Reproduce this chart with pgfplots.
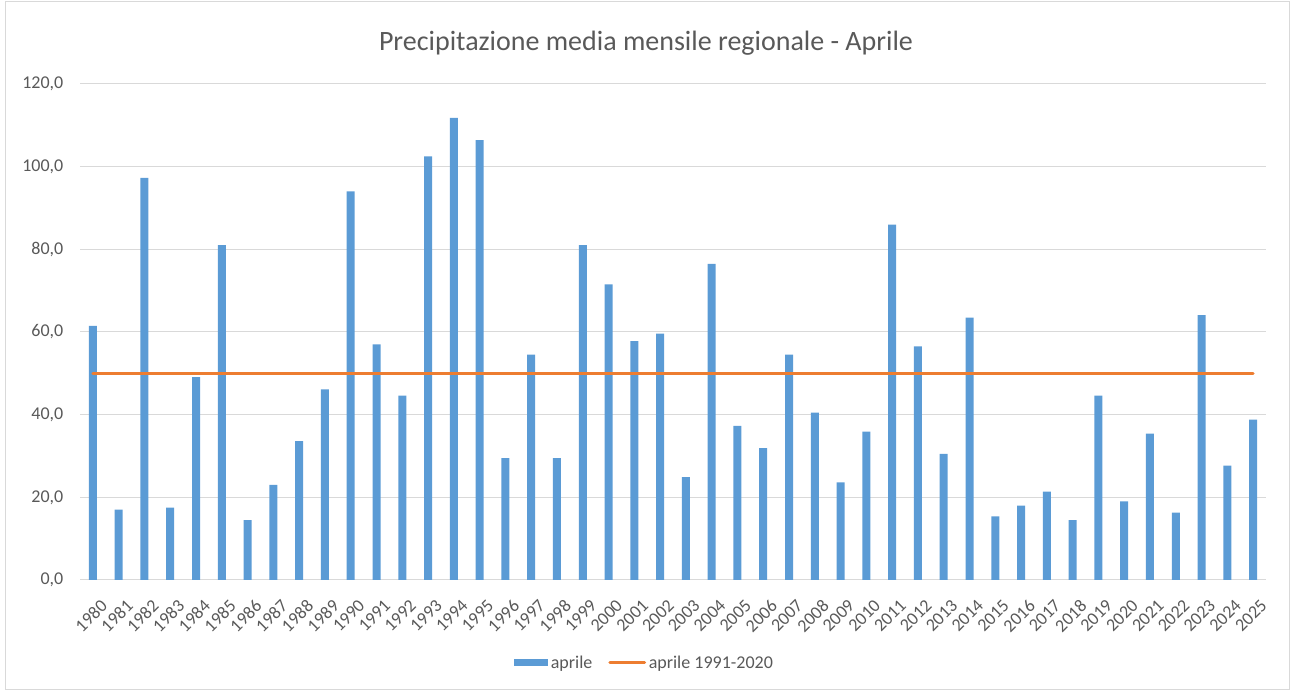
\documentclass[border=0pt]{standalone}
\usepackage{pgfplots}
\pgfplotsset{compat=1.18}
\usepackage{fontspec}
\setmainfont{Carlito}
\definecolor{barblue}{HTML}{5B9BD5}
\definecolor{lineorange}{HTML}{ED7D31}
\definecolor{txtgray}{HTML}{595959}
\definecolor{gridgray}{HTML}{D9D9D9}
\begin{document}
\begin{tikzpicture}[x=0.75pt,y=0.75pt]
\path[use as bounding box] (0,0) rectangle (1292,692);
\draw[gridgray, line width=0.75pt] (5,2) rectangle (1289,690);
\node[txtgray, font=\fontsize{21}{25}\selectfont] at (646,649) {Precipitazione media mensile regionale - Aprile};
\begin{axis}[
  at={(60pt,84pt)}, anchor=south west,
  scale only axis, width=889.5pt, height=372pt,
  xmin=1979.5, xmax=2025.5, ymin=0, ymax=120,
  xtick={1980,...,2025}, ytick={0,20,...,120},
  axis y line*=left, axis x line*=bottom,
  y axis line style={draw=none},
  x axis line style={draw=gridgray, line width=0.75pt, -},
  major tick length=0pt,
  ymajorgrids, grid style={draw=gridgray, line width=0.75pt},
  /pgf/number format/assume math mode=true,
  ticklabel style={font=\fontsize{13.5}{16}\selectfont, text=txtgray},
  xticklabel style={xshift=5pt, yshift=-9pt, rotate=45, anchor=north east, /pgf/number format/1000 sep={}},
  yticklabel style={xshift=-9pt, /pgf/number format/.cd, fixed, fixed zerofill, precision=1, use comma},
  legend columns=2,
  legend style={at={(0.476,-0.167)}, anchor=center, draw=none, fill=none,
    font=\fontsize{13.5}{16}\selectfont, text=txtgray,
    /tikz/every even column/.append style={column sep=10pt}},
]
\addplot[ybar, bar width=6pt, fill=barblue, draw=none,
  legend image code/.code={\fill[barblue] (0pt,-2.7pt) rectangle (26pt,2.7pt);}]
coordinates {
(1980,61.5) (1981,17.0) (1982,97.3) (1983,17.5) (1984,49.1) (1985,81.0)
(1986,14.5) (1987,23.0) (1988,33.6) (1989,46.1) (1990,94.0) (1991,57.0)
(1992,44.6) (1993,102.5) (1994,111.8) (1995,106.4) (1996,29.5) (1997,54.5)
(1998,29.5) (1999,81.0) (2000,71.5) (2001,57.8) (2002,59.6) (2003,24.9)
(2004,76.5) (2005,37.3) (2006,31.9) (2007,54.5) (2008,40.5) (2009,23.6)
(2010,35.9) (2011,86.0) (2012,56.5) (2013,30.5) (2014,63.5) (2015,15.4)
(2016,18.0) (2017,21.4) (2018,14.5) (2019,44.6) (2020,19.0) (2021,35.4)
(2022,16.3) (2023,64.1) (2024,27.7) (2025,38.8)
};
\addlegendentry{aprile}
\addplot[lineorange, line width=2.25pt, line cap=round,
  legend image code/.code={\draw[lineorange, line width=2.25pt] (0pt,0pt) -- (26pt,0pt);}]
coordinates {(1980,50.0) (2025,50.0)};
\addlegendentry{aprile 1991-2020}
\end{axis}
\end{tikzpicture}
\end{document}
